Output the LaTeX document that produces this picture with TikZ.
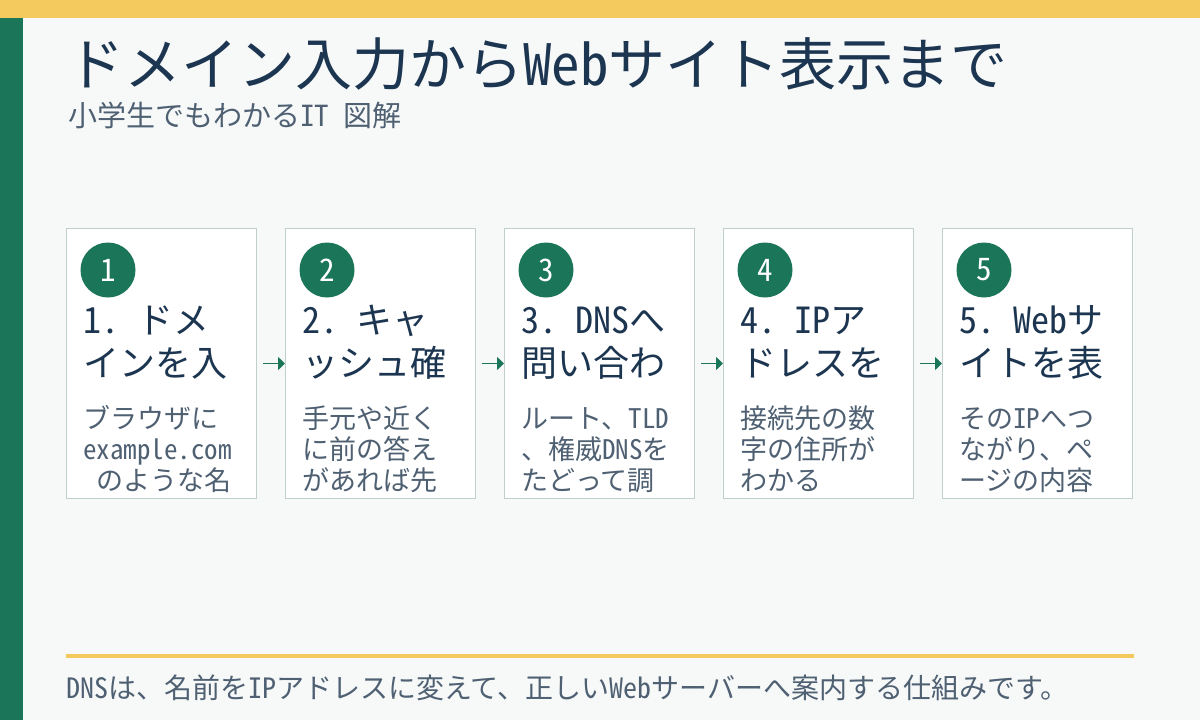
\documentclass[tikz,border=0pt]{standalone}
\usepackage{fontspec}
\setmainfont{Noto Sans CJK JP}
\newfontfamily\hwfont[RawFeature=+hwid]{Noto Sans CJK JP}
\newcommand\hwt[1]{{\hwfont #1}}
\usetikzlibrary{arrows.meta}
\definecolor{bgc}{HTML}{F7F9F9}
\definecolor{yelc}{HTML}{F4C95D}
\definecolor{grn}{HTML}{1B7558}
\definecolor{navy}{HTML}{1C3550}
\definecolor{graytxt}{HTML}{4E6072}
\definecolor{bordc}{HTML}{BFD0CB}
\tikzset{
  card/.style={draw=bordc,fill=white,line width=1pt,minimum width=190pt,minimum height=270pt,anchor=north west,inner sep=0pt},
  numc/.style={circle,fill=grn,minimum size=55pt,inner sep=0pt,text=white,font=\fontsize{31pt}{31pt}\selectfont\hwfont},
  head/.style={text=navy,font=\fontsize{36pt}{36pt}\selectfont,anchor=base west,inner sep=0pt},
  bodyt/.style={text=graytxt,font=\fontsize{27pt}{27pt}\selectfont,anchor=base west,inner sep=0pt},
  arr/.style={draw=grn,line width=1.5pt,-{Triangle[length=7pt,width=13pt]}}
}
\newcommand\stepcard[7]{%
  \node[card] (c#1) at (#2,228) {};
  \node[numc] (n#1) at (#2+42,270) {#1};
  \node[head] (ha#1) at (#2+17,333) {#3};
  \node[head] (hb#1) at (#2+17,376) {#4};
  \node[bodyt] (ba#1) at (#2+17,428) {#5};
  \node[bodyt] (bb#1) at (#2+17,459) {#6};
  \node[bodyt] (bc#1) at (#2+17,490) {#7};
}
\begin{document}
\begin{tikzpicture}[x=1pt,y=-1pt]
\useasboundingbox (0,0) rectangle (1200,720);
\fill[bgc] (0,0) rectangle (1200,720);
\fill[yelc] (0,0) rectangle (1200,18);
\fill[grn] (0,18) rectangle (23,720);
\node[text=navy,font=\fontsize{57pt}{57pt}\selectfont,anchor=base west,inner sep=0pt] (title) at (67,85) {ドメイン入力から\hwt{Web}サイト表示まで};
\node[text=graytxt,font=\fontsize{29pt}{29pt}\selectfont,anchor=base west,inner sep=0pt] (sub) at (68,126) {小学生でもわかる\hwt{IT\ }図解};
\stepcard{1}{66}{\hwt{1.\ }ドメ}{インを入}{ブラウザに}{\hwt{example.com}}{\hwt{\ }のような名}
\stepcard{2}{285}{\hwt{2.\ }キャ}{ッシュ確}{手元や近く}{に前の答え}{があれば先}
\stepcard{3}{504}{\hwt{3.\ DNS}へ}{問い合わ}{ルート、\hwt{TLD}}{、権威\hwt{DNS}を}{たどって調}
\stepcard{4}{723}{\hwt{4.\ IP}ア}{ドレスを}{接続先の数}{字の住所が}{わかる}
\stepcard{5}{942}{\hwt{5.\ Web}サ}{イトを表}{その\hwt{IP}へつ}{ながり、ペ}{ージの内容}
\draw[arr] ([xshift=6pt]c1.east) -- (c2.west);
\draw[arr] ([xshift=6pt]c2.east) -- (c3.west);
\draw[arr] ([xshift=6pt]c3.east) -- (c4.west);
\draw[arr] ([xshift=6pt]c4.east) -- (c5.west);
\draw[yelc,line width=4pt] (66,656) -- (1134,656);
\node[text=graytxt,font=\fontsize{28pt}{28pt}\selectfont,anchor=base west,inner sep=0pt] (foot) at (66,698) {\hwt{DNS}は、名前を\hwt{IP}アドレスに変えて、正しい\hwt{Web}サーバーへ案内する仕組みです。};
\end{tikzpicture}
\end{document}
